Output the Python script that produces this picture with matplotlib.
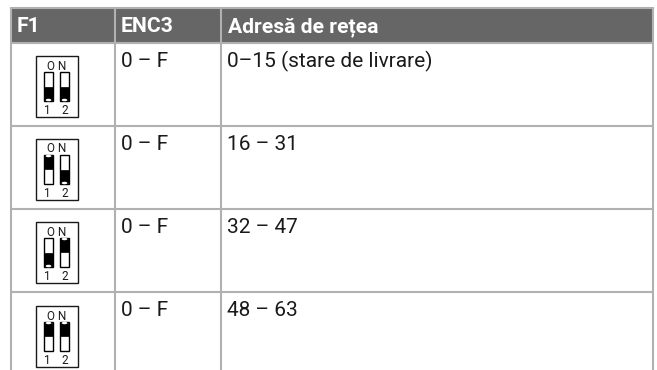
import matplotlib
matplotlib.use('Agg')
from matplotlib import pyplot as plt
from matplotlib.patches import Rectangle, Ellipse

headers = ['F1', 'ENC3', 'Adresă de rețea']
enc_values = ['0 – F', '0 – F', '0 – F', '0 – F']
addresses = ['0–15 (stare de livrare)', '16 – 31', '32 – 47', '48 – 63']
# position of dip switch 1 and 2 in each row, True = up (ON)
switch_1 = [False, True, False, True]
switch_2 = [False, False, True, True]

col_lines = [11, 115, 221, 653]
row_lines = [8, 43, 126, 209, 292]
bottom = 370
box_tops = [56, 139, 222, 306]

grey_line = '#b1b1b1'
grey_head = '#666666'
ink = '#1a1a1a'
body_font = ['Roboto', 'DejaVu Sans']

fig = plt.figure(figsize=(6.57, 3.70), dpi=100)
ax = fig.add_axes([0, 0, 1, 1])
ax.set_xlim(0, 657)
ax.set_ylim(370, 0)
ax.axis('off')

# header band
ax.add_patch(Rectangle((col_lines[0], row_lines[0]), col_lines[-1] - col_lines[0],
                       row_lines[1] - row_lines[0], color=grey_head, lw=0))

# grid
for y in row_lines:
    ax.plot([col_lines[0], col_lines[-1]], [y, y], color=grey_line, lw=1.5, solid_capstyle='butt')
for x in col_lines:
    ax.plot([x, x], [row_lines[0] - 1, bottom], color=grey_line, lw=1.5, solid_capstyle='butt')

# header text
for x, label in zip([17, 121, 228], headers):
    ax.text(x, 32.5, label, color='white', fontsize=15.2, fontweight='bold',
            family=body_font, va='baseline', ha='left')


def draw_slot(x, top, up):
    ax.add_patch(Rectangle((x, top + 16), 9, 29, fc='white', ec='black', lw=1))
    if up:
        ax.add_patch(Rectangle((x, top + 17), 9, 13, fc='black', ec='black', lw=0.5))
        ax.add_patch(Ellipse((x + 4.5, top + 17), 5.5, 2.5, fc='white', lw=0))
    else:
        ax.add_patch(Rectangle((x, top + 31), 9, 13, fc='black', ec='black', lw=0.5))
        ax.add_patch(Ellipse((x + 4.5, top + 44), 5.5, 2.5, fc='white', lw=0))


# rows
for i in range(len(addresses)):
    top = box_tops[i]
    base = row_lines[i + 1] + 24
    ax.text(121, base, enc_values[i], color=ink, fontsize=15, family=body_font, va='baseline')
    ax.text(227, base, addresses[i], color=ink, fontsize=15, family=body_font, va='baseline')

    ax.add_patch(Rectangle((35.5, top), 42, 61, fc='white', ec=ink, lw=1))
    ax.text(56.5, top + 13.5, 'O N', color=ink, fontsize=8.5, family=body_font,
            ha='center', va='baseline')
    ax.text(47.5, top + 58, '1', color=ink, fontsize=8.5, family=body_font, ha='center', va='baseline')
    ax.text(64.5, top + 58, '2', color=ink, fontsize=8.5, family=body_font, ha='center', va='baseline')
    draw_slot(44, top, switch_1[i])
    draw_slot(60, top, switch_2[i])

fig.savefig('out.png', dpi=100, facecolor='white')
